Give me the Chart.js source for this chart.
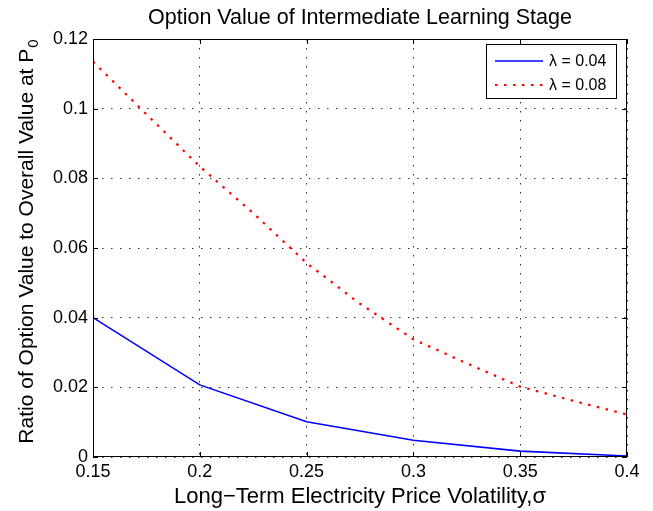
<!DOCTYPE html>
<html>
<head>
<meta charset="utf-8">
<script src="https://cdn.jsdelivr.net/npm/chart.js@4/dist/chart.umd.min.js"></script>
<style>
  html, body { margin: 0; padding: 0; background: #fff; }
  #wrap { width: 653px; height: 511px; }
</style>
</head>
<body>
<div id="wrap"><canvas id="c" width="653" height="511"></canvas></div>
<script>
// Volatility grid for each curve
const sigmaLambda004 = [0.15, 0.20, 0.25, 0.30, 0.35, 0.40];
const sigmaLambda008 = [0.15, 0.175, 0.20, 0.225, 0.25, 0.275, 0.30, 0.325, 0.35, 0.375, 0.40];

// Ratio of option value to overall value at P0
const ratioLambda004 = [0.0400, 0.0207, 0.0101, 0.0048, 0.0017, 0.0003];
const ratioLambda008 = [0.1135, 0.0984, 0.0834, 0.0700, 0.0557, 0.0440, 0.0338, 0.0269, 0.0202, 0.0161, 0.0122];

const seriesLabels = ['λ = 0.04', 'λ = 0.08'];

// Axis ranges and tick steps
const xRange = [0.15, 0.40];
const xStep = 0.05;
const yRange = [0, 0.12];
const yStep = 0.02;

const titleText = 'Option Value of Intermediate Learning Stage';
const xTitleText = 'Long\u2212Term Electricity Price Volatility,\u03c3';
const yTitleMain = 'Ratio of Option Value to Overall Value at P';
const yTitleSub = '0';

const FONT = '"Liberation Sans", Arial, Helvetica, sans-serif';

const toPoints = (xs, ys) => xs.map((x, i) => ({ x: x, y: ys[i] }));
const fmt = v => String(Number(v.toFixed(4)));

// Box frame with inward tick marks, titles and the legend
const framePlugin = {
  id: 'frame',
  afterDatasetsDraw(chart) {
    const { ctx, chartArea: a, scales } = chart;
    const L = a.left, R = a.right, T = a.top, B = a.bottom;
    const tl = 5;
    ctx.save();
    ctx.strokeStyle = '#000';
    ctx.lineWidth = 1;
    ctx.setLineDash([]);
    ctx.strokeRect(L + 0.5, T + 0.5, R - L - 1, B - T - 1);
    ctx.beginPath();
    scales.x.ticks.forEach(t => {
      const px = Math.round(scales.x.getPixelForValue(t.value)) + 0.5;
      ctx.moveTo(px, B); ctx.lineTo(px, B - tl);
      ctx.moveTo(px, T); ctx.lineTo(px, T + tl);
    });
    scales.y.ticks.forEach(t => {
      const py = Math.round(scales.y.getPixelForValue(t.value)) + 0.5;
      ctx.moveTo(L, py); ctx.lineTo(L + tl, py);
      ctx.moveTo(R, py); ctx.lineTo(R - tl, py);
    });
    ctx.stroke();

    // chart title, centred over the plot box
    ctx.fillStyle = '#000';
    ctx.font = '21.5px ' + FONT;
    ctx.textAlign = 'center';
    ctx.textBaseline = 'middle';
    ctx.fillText(titleText, (L + R) / 2, 18);

    // legend
    const bx = 486.5, by = 44.5, bw = 130, bh = 54;
    ctx.fillStyle = '#fff';
    ctx.fillRect(bx, by, bw, bh);
    ctx.strokeStyle = '#000';
    ctx.strokeRect(bx, by, bw, bh);
    const rows = [61, 85];
    chart.data.datasets.forEach((ds, i) => {
      ctx.save();
      ctx.strokeStyle = ds.borderColor;
      ctx.lineWidth = ds.borderWidth;
      ctx.setLineDash(ds.borderDash || []);
      ctx.beginPath();
      ctx.moveTo(495, rows[i]);
      ctx.lineTo(543, rows[i]);
      ctx.stroke();
      ctx.restore();
      ctx.fillStyle = '#000';
      ctx.font = '16px ' + FONT;
      ctx.textBaseline = 'middle';
      ctx.textAlign = 'left';
      ctx.fillText(ds.label, 549, rows[i] + 1);
    });

    // y-axis title with subscript
    ctx.translate(33, 242);
    ctx.rotate(-Math.PI / 2);
    ctx.fillStyle = '#000';
    ctx.textBaseline = 'alphabetic';
    ctx.font = '21px ' + FONT;
    const wMain = ctx.measureText(yTitleMain).width;
    ctx.font = '15px ' + FONT;
    const wSub = ctx.measureText(yTitleSub).width;
    const x0 = -(wMain + wSub) / 2;
    ctx.font = '21px ' + FONT;
    ctx.textAlign = 'left';
    ctx.fillText(yTitleMain, x0, 0);
    ctx.font = '15px ' + FONT;
    ctx.fillText(yTitleSub, x0 + wMain + 1, 5);
    ctx.restore();
  }
};

new Chart(document.getElementById('c'), {
  type: 'line',
  data: {
    datasets: [
      {
        label: seriesLabels[0],
        data: toPoints(sigmaLambda004, ratioLambda004),
        borderColor: '#0000ff',
        borderWidth: 1.6,
        pointRadius: 0,
        tension: 0,
        fill: false
      },
      {
        label: seriesLabels[1],
        data: toPoints(sigmaLambda008, ratioLambda008),
        borderColor: '#ff0000',
        borderWidth: 2.2,
        borderDash: [2.5, 6.5],
        pointRadius: 0,
        tension: 0,
        fill: false
      }
    ]
  },
  options: {
    responsive: false,
    animation: false,
    events: [],
    layout: { padding: { top: 39, left: 0, right: 26, bottom: 0 } },
    plugins: {
      legend: { display: false },
      tooltip: { enabled: false },
      title: { display: false }
    },
    scales: {
      x: {
        type: 'linear',
        min: xRange[0],
        max: xRange[1],
        ticks: {
          stepSize: xStep,
          color: '#000',
          padding: 4,
          maxRotation: 0,
          font: { family: FONT, size: 18 },
          callback: v => fmt(v)
        },
        grid: { color: '#333', lineWidth: 1, drawTicks: false },
        border: { display: false, dash: [1.5, 7.5] },
        title: {
          display: true,
          text: xTitleText,
          color: '#000',
          font: { family: FONT, size: 22 },
          padding: { top: 0, bottom: 1 }
        },
        afterFit(s) { s.height = 54; s.paddingLeft = 0; s.paddingRight = 0; }
      },
      y: {
        type: 'linear',
        min: yRange[0],
        max: yRange[1],
        ticks: {
          stepSize: yStep,
          color: '#000',
          padding: 5,
          font: { family: FONT, size: 18 },
          callback: v => fmt(v)
        },
        grid: { color: '#333', lineWidth: 1, drawTicks: false },
        border: { display: false, dash: [1.5, 7.5] },
        afterFit(s) { s.width = 93; s.paddingTop = 0; s.paddingBottom = 0; }
      }
    }
  },
  plugins: [framePlugin]
});
</script>
</body>
</html>
